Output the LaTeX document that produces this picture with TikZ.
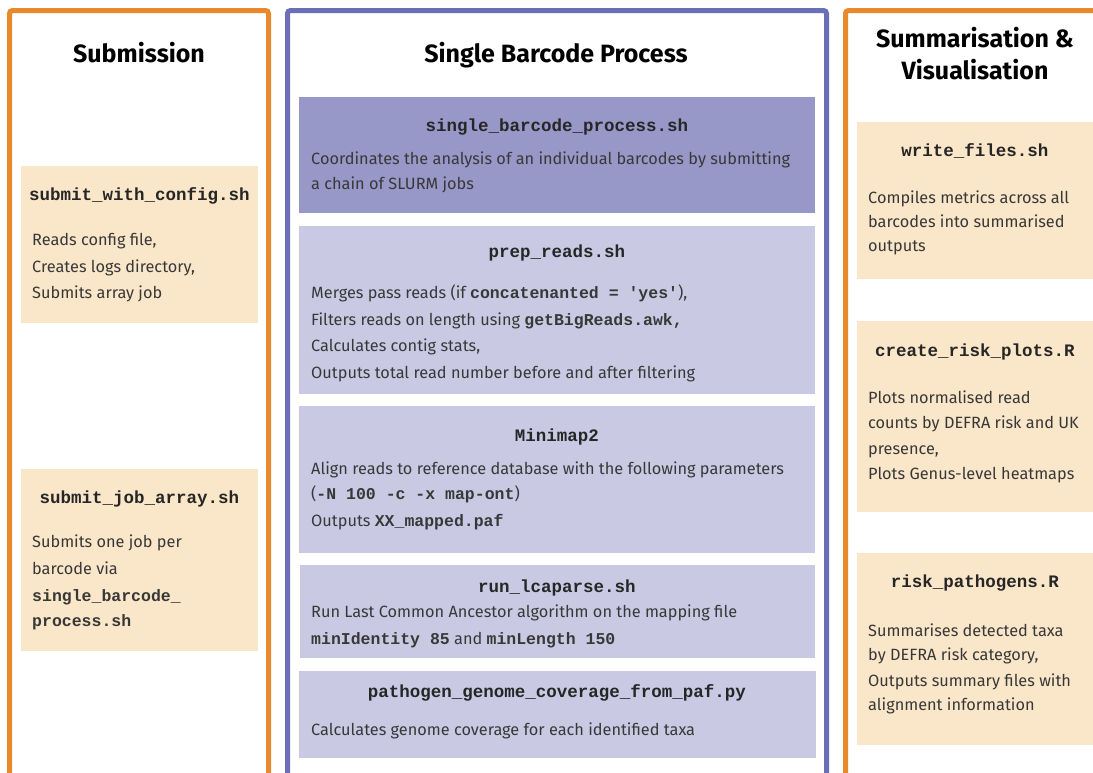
\documentclass[tikz,border=0pt]{standalone}
\usepackage{fontspec}
\setmainfont{Fira Sans}
\setmonofont{Liberation Mono}
\definecolor{panelorange}{HTML}{E8892B}
\definecolor{panelblue}{HTML}{6B6FB8}
\definecolor{beige}{HTML}{FAE6C8}
\definecolor{lilacdark}{HTML}{9797C8}
\definecolor{lilac}{HTML}{C9C9E4}
\definecolor{bodytext}{HTML}{383838}
\newcommand{\cmd}[1]{{\ttfamily\bfseries\fontsize{16.5}{18}\selectfont #1}}
\begin{document}
\begin{tikzpicture}[x=1pt,y=-1pt,
  panel/.style={line width=5pt, rounded corners=3pt},
  card/.style={anchor=north west, inner sep=0pt, draw=none},
  paneltitle/.style={anchor=base, inner sep=0pt, font=\fontsize{25}{28}\selectfont\bfseries, text=black},
  scriptname/.style={anchor=base, inner sep=0pt, font=\fontsize{17.5}{20}\ttfamily\bfseries, text=black!85},
  line/.style={anchor=base west, inner sep=0pt, font=\fontsize{16.3}{19}\selectfont, text=bodytext}]
\useasboundingbox (0,0) rectangle (1093,772);
\fill[white] (0,0) rectangle (1093,772);

% column frames (open at the bottom edge)
\draw[panel, draw=panelorange] (9.5,780) -- (9.5,10.5) -- (268.5,10.5) -- (268.5,780);
\draw[panel, draw=panelblue] (287.5,780) -- (287.5,10.5) -- (826.5,10.5) -- (826.5,780);
\draw[panel, draw=panelorange] (845.5,780) -- (845.5,10.5) -- (1100,10.5);

% column headings
\node[paneltitle] (tsub) at (139,62) {Submission};
\node[paneltitle] (tsbp) at (556,62) {Single Barcode Process};
\node[paneltitle] (tsum1) at (975,47) {Summarisation \&};
\node[paneltitle] (tsum2) at (975,79) {Visualisation};

% ---- Submission column
\node[card, fill=beige, minimum width=237pt, minimum height=157pt] (swc) at (21,166) {};
\node[scriptname] (swct) at (139.5,200) {submit\_with\_config.sh};
\node[line] (swc1) at (32,245) {Reads config file,};
\node[line] (swc2) at (32,272) {Creates logs directory,};
\node[line] (swc3) at (32,298) {Submits array job};

\node[card, fill=beige, minimum width=237pt, minimum height=182pt] (sja) at (21,469) {};
\node[scriptname] (sjat) at (139.5,503) {submit\_job\_array.sh};
\node[line] (sja1) at (32,547) {Submits one job per};
\node[line] (sja2) at (32,574) {barcode via};
\node[line] (sja3) at (32,601) {\cmd{single\_barcode\_}};
\node[line] (sja4) at (32,626) {\cmd{process.sh}};

% ---- Single barcode column
\node[card, fill=lilacdark, minimum width=516pt, minimum height=116pt] (sbp) at (299,97) {};
\node[scriptname] (sbpt) at (557,131) {single\_barcode\_process.sh};
\node[line] (sbp1) at (311,164) {Coordinates the analysis of an individual barcodes by submitting};
\node[line] (sbp2) at (311,189) {a chain of SLURM jobs};

\node[card, fill=lilac, minimum width=516pt, minimum height=168pt] (prep) at (299,226) {};
\node[scriptname] (prept) at (557,257) {prep\_reads.sh};
\node[line] (prep1) at (311,298) {Merges pass reads (if \cmd{concatenanted = 'yes'}),};
\node[line] (prep2) at (311,325) {Filters reads on length using \cmd{getBigReads.awk,}};
\node[line] (prep3) at (311,351) {Calculates contig stats,};
\node[line] (prep4) at (311,378) {Outputs total read number before and after filtering};

\node[card, fill=lilac, minimum width=516pt, minimum height=147pt] (mm) at (299,406) {};
\node[scriptname] (mmt) at (557,441) {Minimap2};
\node[line] (mm1) at (311,474) {Align reads to reference database with the following parameters};
\node[line] (mm2) at (311,499) {(\cmd{-N 100 -c -x map-ont})};
\node[line] (mm3) at (311,526) {Outputs \cmd{XX\_mapped.paf}};

\node[card, fill=lilac, minimum width=515pt, minimum height=93pt] (lca) at (300,565) {};
\node[scriptname] (lcat) at (557,592) {run\_lcaparse.sh};
\node[line] (lca1) at (311,617) {Run Last Common Ancestor algorithm on the mapping file};
\node[line] (lca2) at (311,644) {\cmd{minIdentity 85} and \cmd{minLength 150}};

\node[card, fill=lilac, minimum width=517pt, minimum height=87pt] (cov) at (299,671) {};
\node[scriptname] (covt) at (557,697) {pathogen\_genome\_coverage\_from\_paf.py};
\node[line] (cov1) at (311,735) {Calculates genome coverage for each identified taxa};

% ---- Summarisation column
\node[card, fill=beige, minimum width=240pt, minimum height=157pt] (wf) at (857,122) {};
\node[scriptname] (wft) at (975,156) {write\_files.sh};
\node[line] (wf1) at (868,203) {Compiles metrics across all};
\node[line] (wf2) at (868,227) {barcodes into summarised};
\node[line] (wf3) at (868,251) {outputs};

\node[card, fill=beige, minimum width=240pt, minimum height=191pt] (crp) at (857,321) {};
\node[scriptname] (crpt) at (975,356) {create\_risk\_plots.R};
\node[line] (crp1) at (868,403) {Plots normalised read};
\node[line] (crp2) at (868,428) {counts by DEFRA risk and UK};
\node[line] (crp3) at (868,454) {presence,};
\node[line] (crp4) at (868,479) {Plots Genus-level heatmaps};

\node[card, fill=beige, minimum width=240pt, minimum height=192pt] (rp) at (857,553) {};
\node[scriptname] (rpt) at (975,587) {risk\_pathogens.R};
\node[line] (rp1) at (868,636) {Summarises detected taxa};
\node[line] (rp2) at (868,660) {by DEFRA risk category,};
\node[line] (rp3) at (868,686) {Outputs summary files with};
\node[line] (rp4) at (868,710) {alignment information};
\end{tikzpicture}
\end{document}
